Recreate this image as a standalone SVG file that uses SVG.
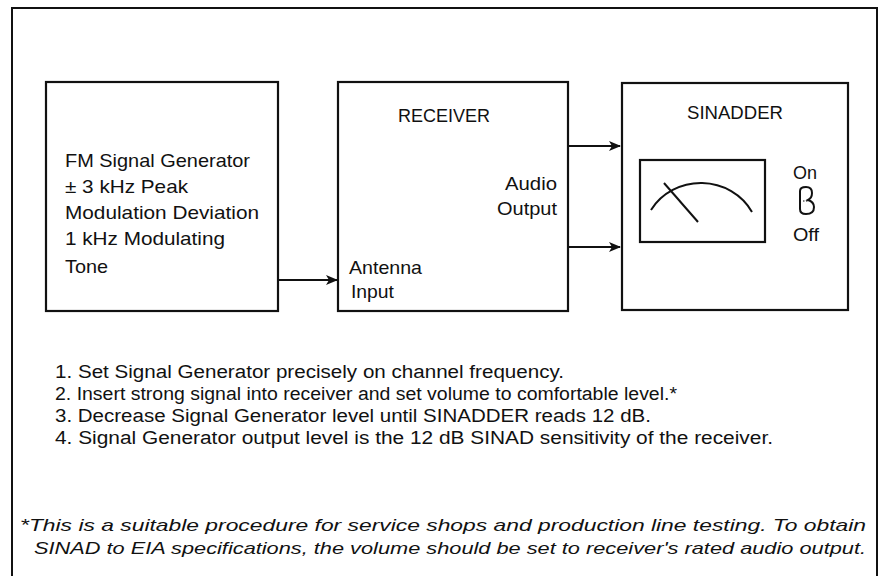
<svg xmlns="http://www.w3.org/2000/svg" width="882" height="576" viewBox="0 0 882 576">
<defs>
<style>
.box{fill:#fff;stroke:#111;stroke-width:2.2}
.t{font-family:"Liberation Sans Narrow","Liberation Sans",Arial,sans-serif;font-size:18.5px;fill:#111}
.b{font-family:"Liberation Sans Narrow","Liberation Sans",Arial,sans-serif;font-size:18px;fill:#111}
.f{font-family:"Liberation Sans Narrow","Liberation Sans",Arial,sans-serif;font-size:17px;font-style:italic;fill:#111}
.ln{fill:none;stroke:#111;stroke-width:2}
</style>
<marker id="ah" viewBox="0 0 12 10" refX="11" refY="5" markerWidth="12" markerHeight="10" markerUnits="userSpaceOnUse" orient="auto">
<path d="M0,0 L12,5 L0,10 L3,5 Z" fill="#111"/>
</marker>
</defs>
<rect width="882" height="576" fill="#fff"/>
<g id="frame">
<path class="ln" d="M12,576 L12,8 L877,8 L877,576" stroke-width="2.4"/>
</g>
<g id="generator">
<rect class="box" x="46" y="82" width="232" height="229"/>
<text class="t" x="65" y="167" textLength="185" lengthAdjust="spacingAndGlyphs">FM Signal Generator</text>
<text class="t" x="65" y="193" textLength="123" lengthAdjust="spacingAndGlyphs">± 3 kHz Peak</text>
<text class="t" x="65" y="219" textLength="194" lengthAdjust="spacingAndGlyphs">Modulation Deviation</text>
<text class="t" x="65" y="245" textLength="160" lengthAdjust="spacingAndGlyphs">1 kHz Modulating</text>
<text class="t" x="65" y="273" textLength="43" lengthAdjust="spacingAndGlyphs">Tone</text>
</g>
<g id="receiver">
<rect class="box" x="338" y="82" width="230" height="229"/>
<text class="t" x="398" y="122" textLength="92" lengthAdjust="spacingAndGlyphs">RECEIVER</text>
<text class="t" x="505" y="190" textLength="52" lengthAdjust="spacingAndGlyphs">Audio</text>
<text class="t" x="497" y="215" textLength="60" lengthAdjust="spacingAndGlyphs">Output</text>
<text class="t" x="349" y="274" textLength="73" lengthAdjust="spacingAndGlyphs">Antenna</text>
<text class="t" x="351" y="298" textLength="43" lengthAdjust="spacingAndGlyphs">Input</text>
</g>
<g id="sinadder">
<rect class="box" x="622" y="83" width="226" height="227"/>
<text class="t" x="687" y="119" textLength="96" lengthAdjust="spacingAndGlyphs">SINADDER</text>
<rect x="640" y="160" width="125" height="82" fill="none" stroke="#111" stroke-width="2.2"/>
<path class="ln" d="M651,210 A58,55 0 0 1 752,212"/>
<path class="ln" d="M664,183 L698,222"/>
<text class="t" x="793" y="179" textLength="24" lengthAdjust="spacingAndGlyphs">On</text>
<path class="ln" d="M800,191 Q800,187 806,187 Q812,187 812,193 Q812,198 808,200 Q814,202 814,207 Q814,214 806,214 Q800,214 800,209 Z" stroke-width="1.8"/>
<path d="M803,201 L809,201" stroke="#111" stroke-width="1.2" stroke-dasharray="1.5,1.5"/>
<text class="t" x="793" y="241" textLength="26" lengthAdjust="spacingAndGlyphs">Off</text>
</g>
<g id="connectors">
<path class="ln" d="M278,280 L337,280" marker-end="url(#ah)"/>
<path class="ln" d="M568,146 L620,146" marker-end="url(#ah)"/>
<path class="ln" d="M568,247 L620,247" marker-end="url(#ah)"/>
</g>
<g id="steps">
<text class="b" x="55" y="378" textLength="509" lengthAdjust="spacingAndGlyphs">1. Set Signal Generator precisely on channel frequency.</text>
<text class="b" x="55" y="400" textLength="622" lengthAdjust="spacingAndGlyphs">2. Insert strong signal into receiver and set volume to comfortable level.*</text>
<text class="b" x="55" y="422" textLength="596" lengthAdjust="spacingAndGlyphs">3. Decrease Signal Generator level until SINADDER reads 12 dB.</text>
<text class="b" x="55" y="444" textLength="718" lengthAdjust="spacingAndGlyphs">4. Signal Generator output level is the 12 dB SINAD sensitivity of the receiver.</text>
</g>
<g id="footnote">
<text class="f" x="20" y="531" textLength="846" lengthAdjust="spacingAndGlyphs">*This is a suitable procedure for service shops and production line testing. To obtain</text>
<text class="f" x="34" y="554" textLength="832" lengthAdjust="spacingAndGlyphs">SINAD to EIA  specifications, the volume should be set to receiver's rated audio output.</text>
</g>
</svg>
